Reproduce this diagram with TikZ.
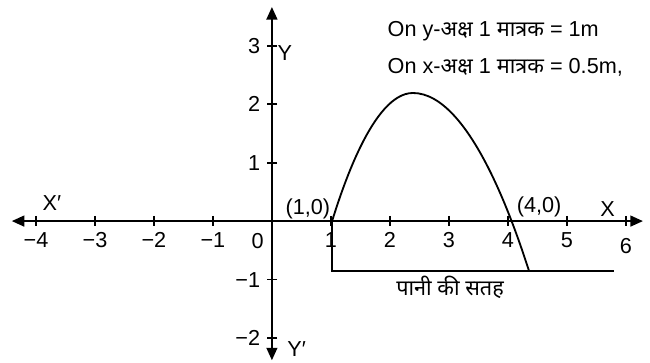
\documentclass[tikz,border=0pt]{standalone}
\usepackage{fontspec}
\setmainfont{Liberation Sans}
\newfontfamily\hindi[Script=Devanagari]{Noto Sans}
\usetikzlibrary{arrows.meta}

\tikzset{
    lbl/.style={inner sep=1pt}
}

\begin{document}
\begin{tikzpicture}[x=35.4pt,y=35.1pt,line width=1.1pt,
    font=\fontsize{13}{15.6}\selectfont,
    >={Triangle[length=7.5pt,width=6.5pt]}]

    \useasboundingbox (-4.61,-2.41) rectangle (6.41,3.78);

    % axes
    \coordinate (xl) at (-4.41,0);
    \coordinate (xr) at (6.29,0);
    \coordinate (yb) at (0,-2.38);
    \coordinate (yt) at (0,3.66);
    \draw[<->] (xl) -- (xr);
    \draw[<->] (yb) -- (yt);

    \foreach \x/\t in {-4/−4,-3/−3,-2/−2,-1/−1,1/1,2/2,3/3,4/4,5/5}
        \draw (\x,0.09) -- (\x,-0.09) node[below=0pt] (tx\x) {\t};
    \draw (6,0.09) -- (6,-0.09) node[below=3.5pt] (tx6) {6};
    \node (t0) at (-0.24,-0.34) {0};

    \foreach \y/\t in {-2/−2,-1/−1,1/1,2/2,3/3}
        \draw (0.09,\y) -- (-0.09,\y) node[left] (ty\y) {\t};

    \node[lbl] (xneg) at (-3.73,0.31) {X′};
    \node[lbl] (xpos) at (5.69,0.21) {X};
    \node[lbl] (ypos) at (0.22,2.87) {Y};
    \node[lbl] (yneg) at (0.42,-2.19) {Y′};

    % path of the water jet
    \coordinate (p1) at (1.02,0);
    \coordinate (top) at (2.39,2.19);
    \coordinate (p5) at (4.36,-0.855);
    \draw (p1) parabola bend (top) (p5);
    \node[lbl] (p1lbl) at (0.61,0.21) {(1,0)};
    \node[lbl] (p4lbl) at (4.53,0.24) {(4,0)};

    % water surface
    \coordinate (w1) at (1.02,-0.855);
    \coordinate (w2) at (5.80,-0.855);
    \draw (p1) -- (w1) -- (w2);
    \node[lbl] (surf) at (3.02,-1.13) {\hindi पानी की सतह};

    \node[lbl,anchor=west] (yscale) at (1.92,3.25) {On y-{\hindi अक्ष} 1 {\hindi मात्रक} = 1m};
    \node[lbl,anchor=west] (xscale) at (1.92,2.63) {On x-{\hindi अक्ष} 1 {\hindi मात्रक} = 0.5m,};

\end{tikzpicture}
\end{document}
